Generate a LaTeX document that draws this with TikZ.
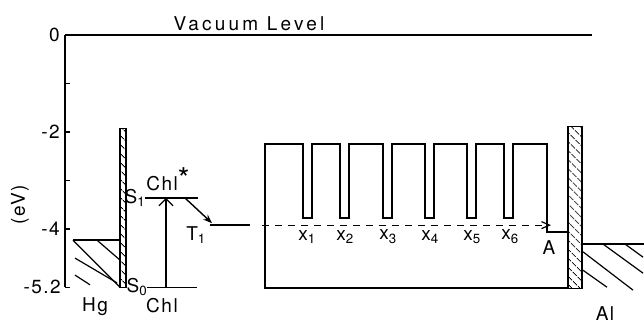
\documentclass[tikz,border=0pt]{standalone}
\usepackage{fontspec}
\setmainfont{TeX Gyre Heros}[LetterSpace=8]
\newfontfamily\widefont{TeX Gyre Heros}[LetterSpace=17]
\usetikzlibrary{arrows.meta}
\usetikzlibrary{patterns.meta}

\begin{document}
\begin{tikzpicture}[
  x=1pt, y=48.5pt,
  font=\fontsize{19}{22}\selectfont,
  level/.style={line width=1.4pt},
  wall/.style={draw, line width=1.2pt, pattern={Lines[angle=-45, distance=6.5pt, line width=1pt]}},
  hatch/.style={line width=1.2pt},
  arrow/.style={-{Straight Barb[length=7pt]}, line width=1.1pt},
  dashedarrow/.style={-{Straight Barb[length=8pt, width=7pt]}, line width=1.2pt, dash pattern=on 7pt off 6pt},
  lab/.style={inner sep=1pt}
]
\useasboundingbox (0,0.722) rectangle (644,-5.938);

% Energy axis
\draw[level] (65,0) -- (65,-5.2);
\foreach \e in {0,-1,-2,-3,-4,-5.2}
  \draw[level] (65,\e) -- (70,\e);
\node[lab, anchor=east] (zero) at (61,0) {0};
\node[lab, anchor=east] (mtwo) at (61,-2) {-2};
\node[lab, anchor=east] (mfour) at (61,-4) {-4};
\node[lab, anchor=east] (mfive) at (62,-5.2) {-5.2};
\node[lab, rotate=90] (unit) at (20,-3.5) {(eV)};

% Vacuum level
\draw[level, line width=1.8pt] (65,0) -- (592,0);
\node[lab, anchor=south] (vac) at (249,0.06) {\widefont Vacuum Level};

% Hg electrode and barrier
\draw[level] (73,-4.23) -- (120,-4.23);
\draw[hatch] (73,-4.23) -- (120,-5.2);
\draw[hatch] (97,-4.23) -- (120,-4.64);
\draw[hatch] (75,-4.6) -- (117,-5.11);
\draw[hatch] (75,-4.95) -- (90,-5.15);
\draw[wall] (120,-5.2) rectangle (126,-1.92);
\node[lab] (hg) at (95,-5.61) {Hg};

% Chl levels
\draw[level] (145,-3.36) -- (198,-3.36);
\draw[level] (147,-5.2) -- (197,-5.2);
\coordinate (s0) at (166,-5.2);
\coordinate (s1) at (166,-3.36);
\coordinate (s1r) at (185,-3.36);
\coordinate (t1) at (212,-3.88);
\draw[arrow] (s0) -- (s1);
\draw[-{Stealth[length=9pt]}, line width=1.4pt] (s1r) -- (t1);
\draw[level] (210,-3.92) -- (250,-3.92);
\node[lab] (sone) at (135,-3.36) {S\textsubscript{1}};
\node[lab] (szero) at (137,-5.2) {S\textsubscript{0}};
\node[lab] (chlstar) at (168,-2.98) {Chl\raisebox{.1ex}{\fontsize{30}{30}\selectfont *}};
\node[lab] (chl) at (162,-5.57) {Chl};
\node[lab] (tone) at (196,-4.12) {T\textsubscript{1}};

% Multilayer with traps
\draw[level] (568,-5.22) -- (265,-5.22) -- (265,-2.25)
  foreach \t in {303,340,383,425,467,504} {
    -- (\t,-2.25) -- (\t,-3.77) -- (\t+9,-3.77) -- (\t+9,-2.25)
  } -- (547,-2.25) -- (547,-4.06) -- (568,-4.06);
\coordinate (start) at (262,-3.92);
\coordinate (acc) at (551,-3.92);
\draw[dashedarrow] (start) -- (acc);
\foreach \i/\xx in {1/307,2/345,3/388,4/430,5/472,6/510}
  \node[lab] (x\i) at (\xx,-4.16) {x\textsubscript{\i}};
\node[lab] (a) at (549,-4.39) {A};

% Al electrode and barrier
\draw[wall] (568,-5.22) rectangle (582,-1.88);
\draw[level] (582,-4.31) -- (644,-4.31);
\draw[hatch] (583,-4.47) -- (633,-5.26);
\draw[hatch] (583,-4.85) -- (607,-5.2);
\draw[hatch] (603,-4.31) -- (643,-4.91);
\draw[hatch] (625,-4.31) -- (643,-4.58);
\node[lab] (al) at (605,-5.74) {Al};

\end{tikzpicture}
\end{document}
